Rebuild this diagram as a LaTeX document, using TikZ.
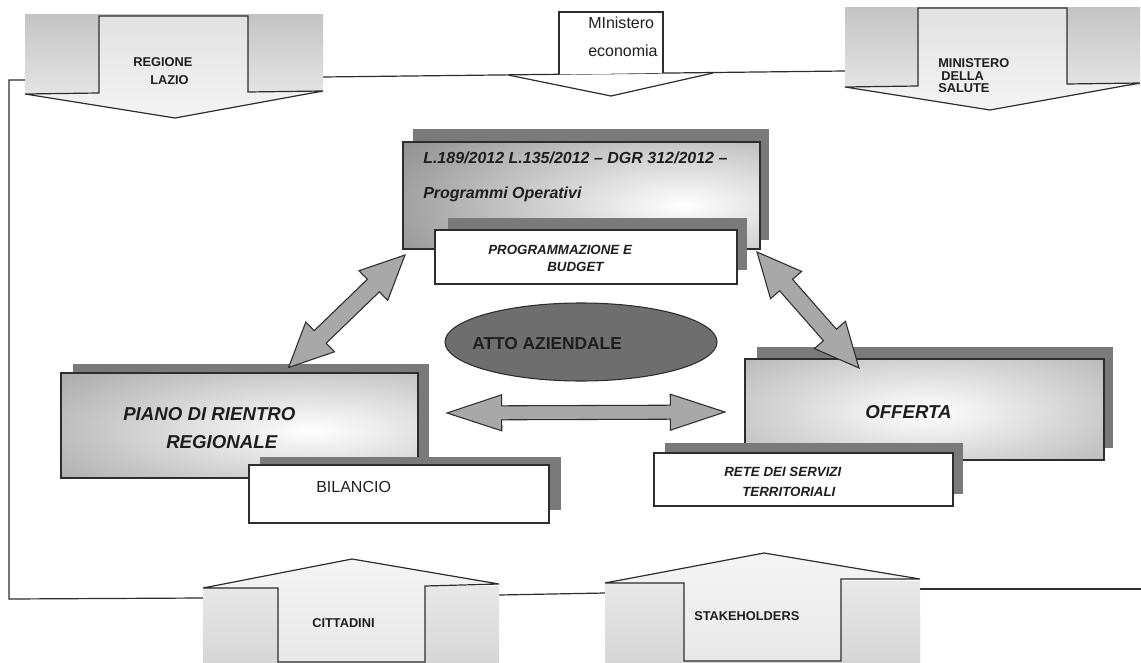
\documentclass[tikz,border=0pt]{standalone}
\usepackage{fontspec}
\setmainfont{Liberation Sans}
\usetikzlibrary{calc,shapes.geometric}
\definecolor{shadowc}{RGB}{122,122,122}
\definecolor{edgec}{RGB}{45,45,45}
\definecolor{boxgray}{RGB}{134,134,134}
\definecolor{arrowc}{RGB}{168,168,168}
\definecolor{ellc}{RGB}{110,110,110}
\definecolor{textc}{RGB}{30,30,30}
\definecolor{bandtop}{RGB}{196,196,196}
\definecolor{bandbot}{RGB}{228,228,228}
\definecolor{stemtop}{RGB}{226,226,226}
\definecolor{stembot}{RGB}{244,244,244}
\definecolor{lbandtop}{RGB}{232,232,232}
\definecolor{lbandbot}{RGB}{214,214,214}
\definecolor{lstemtop}{RGB}{245,245,245}
\definecolor{lstembot}{RGB}{232,232,232}
\tikzset{
  frame/.style={draw=edgec, line width=0.9pt},
  boxedge/.style={draw=edgec, line width=0.8pt},
  lbl/.style={inner sep=0pt, anchor=base west, text=textc},
  bigit/.style={lbl, font=\bfseries\itshape\fontsize{14}{16}\selectfont},
  lawit/.style={lbl, font=\bfseries\itshape\fontsize{12}{14}\selectfont},
  smallit/.style={lbl, font=\bfseries\itshape\fontsize{10}{12}\selectfont},
  capsb/.style={lbl, font=\bfseries\fontsize{9.6}{11}\selectfont},
  plain/.style={lbl, font=\fontsize{12}{14}\selectfont},
  blockarrow/.style={fill=arrowc, draw=edgec, line width=0.8pt, line join=miter}
}
% double headed block arrow between two named points
\newcommand\dblarrow[5]{%
  \path let \p1=($(#2)-(#1)$) in \pgfextra{%
    \pgfmathsetmacro\tmpang{atan2(\y1,\x1)}%
    \pgfmathsetmacro\tmplen{veclen(\x1,\y1)}%
    \xdef\arrang{\tmpang}\xdef\arrlen{\tmplen}};
  \pgfmathsetmacro\arrb{\arrlen-#3}%
  \begin{scope}[shift={(#1)}, rotate=\arrang]
    \filldraw[blockarrow] (0pt,0pt) -- (#3pt,#4pt) -- (#3pt,#5pt) -- (\arrb pt,#5pt)
      -- (\arrb pt,#4pt) -- (\arrlen pt,0pt) -- (\arrb pt,-#4pt) -- (\arrb pt,-#5pt)
      -- (#3pt,-#5pt) -- (#3pt,-#4pt) -- cycle;
  \end{scope}}
\begin{document}
\begin{tikzpicture}[x=0.75pt,y=-0.75pt]
\useasboundingbox (0,0) rectangle (1141,663);
\fill[white] (0,0) rectangle (1141,663);

% ---------- frame lines ----------
\draw[frame] (25,80) -- (9,80) -- (9,599) -- (203,598);
\draw[frame] (323,77) -- (845,71);
\draw[frame] (499,595) -- (605,593);
\draw[frame] (920,589) -- (1141,589);

% ---------- REGIONE LAZIO ----------
\shade[top color=bandtop, bottom color=bandbot] (25,15) rectangle (323,93);
\shadedraw[top color=stemtop, bottom color=stembot, frame]
  (99,16) -- (248,16) -- (248,92) -- (323,91) -- (175,118) -- (25,94) -- (99,93) -- cycle;
\node[capsb] (reg1) at (133,67) {REGIONE};
\node[capsb] (reg2) at (150,85) {LAZIO};

% ---------- MInistero economia ----------
\draw[frame, fill=white] (559,74.5) -- (559,12) -- (663,12) -- (663,73);
\draw[frame] (508,75) -- (611,96) -- (713,73);
\node[plain] (eco1) at (588,29) {MInistero};
\node[plain] (eco2) at (588,57) {economia};

% ---------- MINISTERO DELLA SALUTE ----------
\shade[top color=bandtop, bottom color=bandbot] (845,8) rectangle (1140,86);
\shadedraw[top color=stemtop, bottom color=stembot, frame]
  (918,8) -- (1067,8) -- (1067,84) -- (1140,83) -- (990,110) -- (845,87) -- (918,86) -- cycle;
\node[capsb] (sal1) at (938,68) {MINISTERO};
\node[capsb] (sal2) at (941,80.5) {DELLA};
\node[capsb] (sal3) at (938,93) {SALUTE};

% ---------- CITTADINI ----------
\shade[top color=lbandtop, bottom color=lbandbot] (203,586) rectangle (499,663);
\shadedraw[top color=lstemtop, bottom color=lstembot, frame]
  (278,662) -- (278,588) -- (203,588) -- (352,559) -- (499,584) -- (425,586) -- (425,662) -- cycle;
\node[capsb] (cit) at (312,627) {CITTADINI};

% ---------- STAKEHOLDERS ----------
\shade[top color=lbandtop, bottom color=lbandbot] (605,581) rectangle (920,663);
\shadedraw[top color=lstemtop, bottom color=lstembot, frame]
  (684,661) -- (684,583) -- (605,583) -- (764,553) -- (920,579) -- (841,579) -- (841,661) -- cycle;
\node[capsb] (stk) at (694,620) {STAKEHOLDERS};

% ---------- top box ----------
\fill[shadowc] (413,129) rectangle (769,240);
\begin{scope}
  \clip (403,142) rectangle (760,249);
  \fill[boxgray] (403,142) rectangle (760,249);
  \shade[inner color=white, outer color=boxgray] (682,205) ellipse (360 and 130);
\end{scope}
\draw[boxedge] (403,142) rectangle (760,249);
\node[lawit] (law1) at (423,164) {L.189/2012 L.135/2012 – DGR 312/2012 –};
\node[lawit] (law2) at (423,198) {Programmi Operativi};

\fill[shadowc] (448,218) rectangle (747,270);
\draw[boxedge, fill=white] (435,230) rectangle (737,284);
\node[smallit] (prog1) at (488,254.5) {PROGRAMMAZIONE E};
\node[smallit] (prog2) at (547,271.5) {BUDGET};

% ---------- Piano di rientro ----------
\fill[shadowc] (73,364) rectangle (429,457);
\begin{scope}
  \clip (61,373) rectangle (418,478);
  \fill[boxgray] (61,373) rectangle (418,478);
  \shade[inner color=white, outer color=boxgray] (310,430) ellipse (460 and 130);
\end{scope}
\draw[boxedge] (61,373) rectangle (418,478);
\node[bigit] (pia1) at (123,420) {PIANO DI RIENTRO};
\node[bigit] (pia2) at (166,448) {REGIONALE};

\fill[shadowc] (260,457) rectangle (561,510);
\draw[boxedge, fill=white] (249,465) rectangle (549,523);
\node[plain] (bil) at (316,492) {BILANCIO};

% ---------- Offerta ----------
\fill[shadowc] (757,347) rectangle (1113,448);
\begin{scope}
  \clip (745,359) rectangle (1104,460);
  \fill[boxgray] (745,359) rectangle (1104,460);
  \shade[inner color=white, outer color=boxgray] (925,412) ellipse (420 and 140);
\end{scope}
\draw[boxedge] (745,359) rectangle (1104,460);
\node[bigit] (off) at (865,418) {OFFERTA};

\fill[shadowc] (665,443) rectangle (963,494);
\draw[boxedge, fill=white] (654,453) rectangle (953,506);
\node[smallit] (ret1) at (724,476.5) {RETE DEI SERVIZI};
\node[smallit] (ret2) at (742,496.5) {TERRITORIALI};

% ---------- ATTO AZIENDALE ----------
\node[ellipse, fill=ellc, draw=edgec, line width=0.8pt, inner sep=0pt,
      minimum width=204pt, minimum height=58.5pt] (atto) at (581,342) {};
\node[lbl, font=\bfseries\fontsize{13}{15}\selectfont] (attot) at (472,349) {ATTO AZIENDALE};

% ---------- double arrows ----------
\coordinate (hL) at (447,413);
\coordinate (hR) at (725,412);
\coordinate (dL1) at (405,255);
\coordinate (dL2) at (288,368);
\coordinate (dR1) at (757,252);
\coordinate (dR2) at (859,368);
\dblarrow{hL}{hR}{41}{13.5}{5.25}
\dblarrow{dL1}{dL2}{33}{15.5}{6.5}
\dblarrow{dR1}{dR2}{33}{15.5}{6.5}
\end{tikzpicture}
\end{document}
